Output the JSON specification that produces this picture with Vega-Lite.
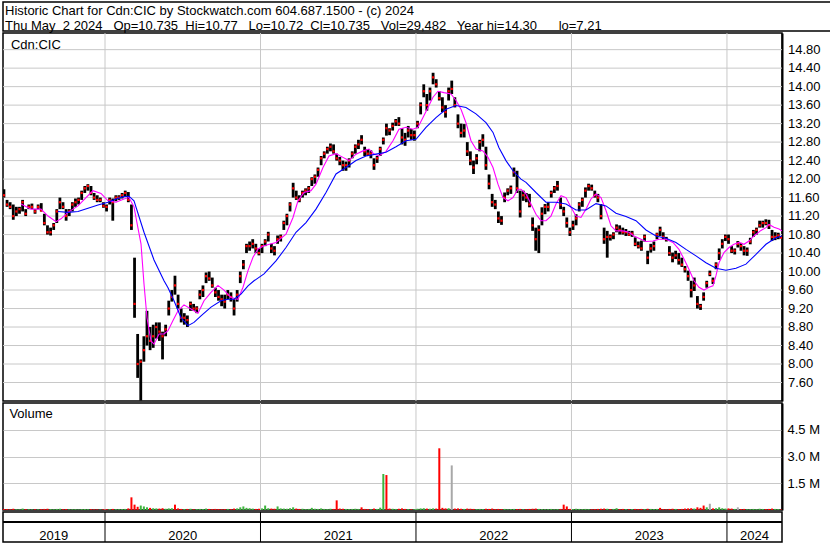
{
"$schema": "https://vega.github.io/schema/vega-lite/v6.json",
"background": "white",
"padding": {"left": 1, "top": 1, "right": 0, "bottom": 0},
"spacing": 2,
"bounds": "flush",
"config": {"view": {"stroke": "black", "strokeWidth": 1.5}, "font": "Liberation Sans"},
"resolve": {"scale": {"x": "independent", "y": "independent", "color": "independent"}},
"datasets": {
"header": [
{"line": 1, "txt": "Historic Chart for Cdn:CIC by Stockwatch.com 604.687.1500 - (c) 2024"},
{"line": 2, "txt": "Thu May\u00a0 2 2024\u00a0\u00a0 Op=10.735\u00a0 Hi=10.77\u00a0\u00a0 Lo=10.72\u00a0 Cl=10.735\u00a0\u00a0 Vol=29,482\u00a0\u00a0 Year hi=14.30\u00a0\u00a0\u00a0\u00a0\u00a0 lo=7.21"}
],
"yb": [{"b": 2020}, {"b": 2021}, {"b": 2022}, {"b": 2023}, {"b": 2024}],
"yl": [{"year": "2019", "mid": 2019.67}, {"year": "2020", "mid": 2020.5}, {"year": "2021", "mid": 2021.5}, {"year": "2022", "mid": 2022.5}, {"year": "2023", "mid": 2023.5}, {"year": "2024", "mid": 2024.177}],
"ticks": [{"p":7.6},{"p":8.0},{"p":8.4},{"p":8.8},{"p":9.2},{"p":9.6},{"p":10.0},{"p":10.4},{"p":10.8},{"p":11.2},{"p":11.6},{"p":12.0},{"p":12.4},{"p":12.8},{"p":13.2},{"p":13.6},{"p":14.0},{"p":14.4},{"p":14.8}],
"px": [
{"t":2019.35,"h":11.78,"l":11.6,"c":11.65,"v":60000,"mv":"down"},
{"t":2019.37,"h":11.55,"l":11.4,"c":11.45,"v":50000,"mv":"down"},
{"t":2019.39,"h":11.5,"l":11.35,"c":11.4,"v":40000,"mv":"down"},
{"t":2019.41,"h":11.45,"l":11.12,"c":11.2,"v":70000,"mv":"down"},
{"t":2019.43,"h":11.4,"l":11.2,"c":11.3,"v":40000,"mv":"up"},
{"t":2019.45,"h":11.4,"l":11.25,"c":11.35,"v":35000,"mv":"up"},
{"t":2019.47,"h":11.55,"l":11.3,"c":11.5,"v":80000,"mv":"up"},
{"t":2019.49,"h":11.35,"l":11.2,"c":11.25,"v":45000,"mv":"down"},
{"t":2019.51,"h":11.45,"l":11.35,"c":11.4,"v":40000,"mv":"up"},
{"t":2019.53,"h":11.47,"l":11.35,"c":11.4,"v":30000,"mv":"up"},
{"t":2019.55,"h":11.35,"l":11.25,"c":11.3,"v":40000,"mv":"down"},
{"t":2019.57,"h":11.45,"l":11.35,"c":11.4,"v":35000,"mv":"up"},
{"t":2019.59,"h":11.48,"l":11.3,"c":11.32,"v":45000,"mv":"down"},
{"t":2019.61,"h":11.25,"l":11.0,"c":11.05,"v":60000,"mv":"down"},
{"t":2019.63,"h":11.0,"l":10.8,"c":10.85,"v":70000,"mv":"down"},
{"t":2019.65,"h":10.95,"l":10.78,"c":10.85,"v":50000,"mv":"up"},
{"t":2019.67,"h":11.05,"l":10.9,"c":11.0,"v":40000,"mv":"up"},
{"t":2019.69,"h":11.35,"l":11.05,"c":11.3,"v":60000,"mv":"up"},
{"t":2019.71,"h":11.6,"l":11.35,"c":11.5,"v":70000,"mv":"up"},
{"t":2019.73,"h":11.5,"l":11.35,"c":11.4,"v":40000,"mv":"down"},
{"t":2019.75,"h":11.35,"l":11.1,"c":11.2,"v":50000,"mv":"down"},
{"t":2019.77,"h":11.35,"l":11.2,"c":11.3,"v":35000,"mv":"up"},
{"t":2019.79,"h":11.5,"l":11.3,"c":11.45,"v":40000,"mv":"up"},
{"t":2019.81,"h":11.58,"l":11.4,"c":11.5,"v":45000,"mv":"up"},
{"t":2019.83,"h":11.6,"l":11.45,"c":11.55,"v":30000,"mv":"up"},
{"t":2019.85,"h":11.75,"l":11.55,"c":11.7,"v":50000,"mv":"up"},
{"t":2019.87,"h":11.85,"l":11.7,"c":11.8,"v":55000,"mv":"up"},
{"t":2019.89,"h":11.89,"l":11.75,"c":11.85,"v":45000,"mv":"up"},
{"t":2019.91,"h":11.85,"l":11.65,"c":11.7,"v":40000,"mv":"down"},
{"t":2019.93,"h":11.7,"l":11.55,"c":11.6,"v":35000,"mv":"down"},
{"t":2019.95,"h":11.65,"l":11.5,"c":11.55,"v":30000,"mv":"down"},
{"t":2019.97,"h":11.6,"l":11.5,"c":11.55,"v":25000,"mv":"up"},
{"t":2019.99,"h":11.5,"l":11.38,"c":11.42,"v":40000,"mv":"down"},
{"t":2020.01,"h":11.45,"l":11.3,"c":11.4,"v":45000,"mv":"down"},
{"t":2020.03,"h":11.6,"l":11.45,"c":11.55,"v":50000,"mv":"up"},
{"t":2020.05,"h":11.58,"l":11.1,"c":11.5,"v":60000,"mv":"down"},
{"t":2020.07,"h":11.65,"l":11.52,"c":11.6,"v":45000,"mv":"up"},
{"t":2020.09,"h":11.65,"l":11.55,"c":11.6,"v":40000,"mv":"up"},
{"t":2020.11,"h":11.7,"l":11.58,"c":11.65,"v":50000,"mv":"up"},
{"t":2020.13,"h":11.75,"l":11.62,"c":11.7,"v":60000,"mv":"up"},
{"t":2020.15,"h":11.72,"l":11.5,"c":11.55,"v":90000,"mv":"down"},
{"t":2020.17,"h":11.45,"l":10.9,"c":11.0,"v":710000,"mv":"down"},
{"t":2020.19,"h":10.3,"l":9.0,"c":9.3,"v":300000,"mv":"down"},
{"t":2020.21,"h":8.65,"l":7.7,"c":8.0,"v":180000,"mv":"down"},
{"t":2020.23,"h":8.1,"l":7.21,"c":8.05,"v":250000,"mv":"up"},
{"t":2020.25,"h":8.6,"l":8.05,"c":8.3,"v":200000,"mv":"up"},
{"t":2020.27,"h":9.15,"l":8.4,"c":8.6,"v":150000,"mv":"up"},
{"t":2020.29,"h":8.8,"l":8.3,"c":8.5,"v":120000,"mv":"down"},
{"t":2020.31,"h":8.85,"l":8.35,"c":8.6,"v":100000,"mv":"up"},
{"t":2020.33,"h":8.9,"l":8.55,"c":8.8,"v":90000,"mv":"up"},
{"t":2020.35,"h":8.9,"l":8.5,"c":8.7,"v":80000,"mv":"down"},
{"t":2020.37,"h":8.7,"l":8.1,"c":8.6,"v":100000,"mv":"down"},
{"t":2020.39,"h":8.85,"l":8.6,"c":8.75,"v":70000,"mv":"up"},
{"t":2020.41,"h":9.37,"l":9.05,"c":9.2,"v":90000,"mv":"up"},
{"t":2020.43,"h":9.6,"l":9.35,"c":9.45,"v":100000,"mv":"up"},
{"t":2020.45,"h":9.91,"l":9.5,"c":9.7,"v":300000,"mv":"down"},
{"t":2020.47,"h":9.5,"l":9.2,"c":9.3,"v":90000,"mv":"down"},
{"t":2020.49,"h":9.2,"l":8.9,"c":9.0,"v":60000,"mv":"down"},
{"t":2020.51,"h":9.1,"l":8.85,"c":9.0,"v":50000,"mv":"up"},
{"t":2020.53,"h":9.05,"l":8.8,"c":8.95,"v":60000,"mv":"down"},
{"t":2020.55,"h":9.35,"l":9.15,"c":9.3,"v":70000,"mv":"up"},
{"t":2020.57,"h":9.3,"l":9.15,"c":9.2,"v":40000,"mv":"down"},
{"t":2020.59,"h":9.25,"l":9.1,"c":9.2,"v":50000,"mv":"up"},
{"t":2020.61,"h":9.6,"l":9.4,"c":9.5,"v":60000,"mv":"up"},
{"t":2020.63,"h":9.7,"l":9.45,"c":9.6,"v":50000,"mv":"up"},
{"t":2020.65,"h":9.98,"l":9.75,"c":9.9,"v":80000,"mv":"up"},
{"t":2020.67,"h":10.0,"l":9.8,"c":9.85,"v":60000,"mv":"down"},
{"t":2020.69,"h":9.87,"l":9.65,"c":9.7,"v":50000,"mv":"down"},
{"t":2020.71,"h":9.65,"l":9.45,"c":9.55,"v":60000,"mv":"down"},
{"t":2020.73,"h":9.6,"l":9.37,"c":9.45,"v":50000,"mv":"down"},
{"t":2020.75,"h":9.5,"l":9.25,"c":9.4,"v":40000,"mv":"down"},
{"t":2020.77,"h":9.5,"l":9.2,"c":9.35,"v":50000,"mv":"down"},
{"t":2020.79,"h":9.6,"l":9.4,"c":9.5,"v":60000,"mv":"up"},
{"t":2020.81,"h":9.55,"l":9.35,"c":9.45,"v":40000,"mv":"down"},
{"t":2020.83,"h":9.4,"l":9.05,"c":9.2,"v":80000,"mv":"down"},
{"t":2020.85,"h":9.6,"l":9.35,"c":9.5,"v":90000,"mv":"up"},
{"t":2020.87,"h":10.0,"l":9.75,"c":9.9,"v":150000,"mv":"up"},
{"t":2020.89,"h":10.25,"l":10.05,"c":10.15,"v":200000,"mv":"up"},
{"t":2020.91,"h":10.6,"l":10.4,"c":10.55,"v":120000,"mv":"up"},
{"t":2020.93,"h":10.65,"l":10.45,"c":10.55,"v":100000,"mv":"up"},
{"t":2020.95,"h":10.7,"l":10.5,"c":10.6,"v":80000,"mv":"up"},
{"t":2020.97,"h":10.6,"l":10.4,"c":10.5,"v":60000,"mv":"down"},
{"t":2020.99,"h":10.5,"l":10.35,"c":10.4,"v":70000,"mv":"down"},
{"t":2021.01,"h":10.6,"l":10.4,"c":10.55,"v":90000,"mv":"up"},
{"t":2021.03,"h":10.7,"l":10.55,"c":10.65,"v":250000,"mv":"up"},
{"t":2021.05,"h":10.86,"l":10.65,"c":10.8,"v":100000,"mv":"up"},
{"t":2021.07,"h":10.6,"l":10.4,"c":10.5,"v":80000,"mv":"down"},
{"t":2021.09,"h":10.55,"l":10.35,"c":10.45,"v":70000,"mv":"down"},
{"t":2021.11,"h":10.78,"l":10.6,"c":10.7,"v":200000,"mv":"up"},
{"t":2021.13,"h":10.8,"l":10.65,"c":10.75,"v":90000,"mv":"up"},
{"t":2021.15,"h":11.1,"l":10.9,"c":11.05,"v":80000,"mv":"up"},
{"t":2021.17,"h":11.25,"l":11.0,"c":11.2,"v":70000,"mv":"up"},
{"t":2021.19,"h":11.5,"l":11.3,"c":11.45,"v":100000,"mv":"up"},
{"t":2021.21,"h":11.92,"l":11.6,"c":11.8,"v":150000,"mv":"up"},
{"t":2021.23,"h":11.75,"l":11.55,"c":11.6,"v":80000,"mv":"down"},
{"t":2021.25,"h":11.65,"l":11.5,"c":11.55,"v":60000,"mv":"down"},
{"t":2021.27,"h":11.75,"l":11.6,"c":11.7,"v":70000,"mv":"up"},
{"t":2021.29,"h":11.8,"l":11.65,"c":11.75,"v":50000,"mv":"up"},
{"t":2021.31,"h":11.85,"l":11.7,"c":11.8,"v":60000,"mv":"up"},
{"t":2021.33,"h":12.04,"l":11.85,"c":12.0,"v":120000,"mv":"up"},
{"t":2021.35,"h":12.1,"l":11.9,"c":12.05,"v":70000,"mv":"up"},
{"t":2021.37,"h":12.25,"l":12.05,"c":12.2,"v":60000,"mv":"up"},
{"t":2021.39,"h":12.5,"l":12.3,"c":12.45,"v":90000,"mv":"up"},
{"t":2021.41,"h":12.6,"l":12.45,"c":12.55,"v":60000,"mv":"up"},
{"t":2021.43,"h":12.7,"l":12.55,"c":12.65,"v":50000,"mv":"up"},
{"t":2021.45,"h":12.77,"l":12.6,"c":12.7,"v":70000,"mv":"up"},
{"t":2021.47,"h":12.75,"l":12.55,"c":12.6,"v":60000,"mv":"down"},
{"t":2021.49,"h":12.55,"l":12.4,"c":12.45,"v":540000,"mv":"down"},
{"t":2021.51,"h":12.48,"l":12.3,"c":12.4,"v":80000,"mv":"down"},
{"t":2021.53,"h":12.4,"l":12.18,"c":12.3,"v":70000,"mv":"down"},
{"t":2021.55,"h":12.38,"l":12.18,"c":12.3,"v":60000,"mv":"up"},
{"t":2021.57,"h":12.45,"l":12.25,"c":12.4,"v":50000,"mv":"up"},
{"t":2021.59,"h":12.6,"l":12.45,"c":12.55,"v":60000,"mv":"up"},
{"t":2021.61,"h":12.75,"l":12.55,"c":12.7,"v":70000,"mv":"up"},
{"t":2021.63,"h":12.85,"l":12.65,"c":12.75,"v":60000,"mv":"up"},
{"t":2021.65,"h":12.95,"l":12.75,"c":12.85,"v":150000,"mv":"down"},
{"t":2021.67,"h":12.7,"l":12.5,"c":12.6,"v":60000,"mv":"down"},
{"t":2021.69,"h":12.65,"l":12.5,"c":12.55,"v":50000,"mv":"down"},
{"t":2021.71,"h":12.62,"l":12.45,"c":12.55,"v":40000,"mv":"up"},
{"t":2021.73,"h":12.45,"l":12.2,"c":12.3,"v":80000,"mv":"down"},
{"t":2021.75,"h":12.5,"l":12.35,"c":12.45,"v":60000,"mv":"up"},
{"t":2021.77,"h":12.7,"l":12.5,"c":12.65,"v":130000,"mv":"up"},
{"t":2021.79,"h":12.9,"l":12.75,"c":12.85,"v":2020000,"mv":"up"},
{"t":2021.81,"h":13.2,"l":12.94,"c":13.1,"v":1960000,"mv":"down"},
{"t":2021.83,"h":13.1,"l":12.95,"c":13.05,"v":80000,"mv":"down"},
{"t":2021.85,"h":13.22,"l":13.05,"c":13.15,"v":70000,"mv":"up"},
{"t":2021.87,"h":13.3,"l":13.15,"c":13.25,"v":60000,"mv":"up"},
{"t":2021.89,"h":13.34,"l":13.15,"c":13.2,"v":70000,"mv":"down"},
{"t":2021.91,"h":13.1,"l":12.75,"c":12.9,"v":90000,"mv":"down"},
{"t":2021.93,"h":13.0,"l":12.72,"c":12.85,"v":60000,"mv":"down"},
{"t":2021.95,"h":13.15,"l":12.9,"c":13.05,"v":50000,"mv":"up"},
{"t":2021.97,"h":13.08,"l":12.85,"c":12.95,"v":40000,"mv":"down"},
{"t":2021.99,"h":13.05,"l":12.83,"c":12.95,"v":50000,"mv":"up"},
{"t":2022.01,"h":13.26,"l":13.1,"c":13.2,"v":70000,"mv":"up"},
{"t":2022.03,"h":13.66,"l":13.4,"c":13.6,"v":90000,"mv":"up"},
{"t":2022.05,"h":14.05,"l":13.77,"c":13.9,"v":100000,"mv":"up"},
{"t":2022.07,"h":13.84,"l":13.48,"c":13.6,"v":80000,"mv":"down"},
{"t":2022.09,"h":13.98,"l":13.7,"c":13.9,"v":70000,"mv":"up"},
{"t":2022.11,"h":14.3,"l":14.05,"c":14.2,"v":90000,"mv":"up"},
{"t":2022.13,"h":14.16,"l":13.98,"c":14.05,"v":80000,"mv":"down"},
{"t":2022.15,"h":13.9,"l":13.7,"c":13.75,"v":3460000,"mv":"down"},
{"t":2022.17,"h":13.77,"l":13.45,"c":13.55,"v":120000,"mv":"down"},
{"t":2022.19,"h":13.6,"l":13.33,"c":13.45,"v":90000,"mv":"down"},
{"t":2022.21,"h":13.98,"l":13.7,"c":13.9,"v":100000,"mv":"up"},
{"t":2022.23,"h":14.13,"l":13.84,"c":13.95,"v":2500000,"mv":"flat"},
{"t":2022.25,"h":13.77,"l":13.55,"c":13.6,"v":80000,"mv":"down"},
{"t":2022.27,"h":13.4,"l":13.1,"c":13.2,"v":90000,"mv":"down"},
{"t":2022.29,"h":13.2,"l":12.9,"c":13.0,"v":70000,"mv":"down"},
{"t":2022.31,"h":13.19,"l":12.9,"c":13.05,"v":60000,"mv":"up"},
{"t":2022.33,"h":12.8,"l":12.5,"c":12.6,"v":80000,"mv":"down"},
{"t":2022.35,"h":12.6,"l":12.3,"c":12.4,"v":70000,"mv":"down"},
{"t":2022.37,"h":12.4,"l":12.11,"c":12.25,"v":60000,"mv":"down"},
{"t":2022.39,"h":12.54,"l":12.32,"c":12.45,"v":50000,"mv":"up"},
{"t":2022.41,"h":12.85,"l":12.6,"c":12.8,"v":60000,"mv":"up"},
{"t":2022.43,"h":12.97,"l":12.7,"c":12.85,"v":50000,"mv":"up"},
{"t":2022.45,"h":12.7,"l":12.2,"c":12.3,"v":70000,"mv":"down"},
{"t":2022.47,"h":12.1,"l":11.78,"c":11.9,"v":60000,"mv":"down"},
{"t":2022.49,"h":11.68,"l":11.4,"c":11.5,"v":80000,"mv":"down"},
{"t":2022.51,"h":11.55,"l":11.35,"c":11.45,"v":50000,"mv":"down"},
{"t":2022.53,"h":11.3,"l":11.05,"c":11.15,"v":60000,"mv":"down"},
{"t":2022.55,"h":11.2,"l":11.01,"c":11.1,"v":50000,"mv":"down"},
{"t":2022.57,"h":11.71,"l":11.5,"c":11.6,"v":60000,"mv":"up"},
{"t":2022.59,"h":11.8,"l":11.65,"c":11.75,"v":40000,"mv":"up"},
{"t":2022.61,"h":11.86,"l":11.68,"c":11.8,"v":50000,"mv":"up"},
{"t":2022.63,"h":12.25,"l":12.05,"c":12.15,"v":60000,"mv":"up"},
{"t":2022.65,"h":12.18,"l":11.7,"c":11.8,"v":50000,"mv":"down"},
{"t":2022.67,"h":11.75,"l":11.17,"c":11.3,"v":60000,"mv":"down"},
{"t":2022.69,"h":11.75,"l":11.53,"c":11.65,"v":40000,"mv":"up"},
{"t":2022.71,"h":11.7,"l":11.5,"c":11.6,"v":50000,"mv":"down"},
{"t":2022.73,"h":11.68,"l":11.39,"c":11.45,"v":60000,"mv":"down"},
{"t":2022.75,"h":11.17,"l":10.88,"c":11.0,"v":70000,"mv":"down"},
{"t":2022.77,"h":10.95,"l":10.45,"c":10.7,"v":80000,"mv":"down"},
{"t":2022.79,"h":11.0,"l":10.4,"c":10.9,"v":60000,"mv":"up"},
{"t":2022.81,"h":11.39,"l":11.0,"c":11.25,"v":50000,"mv":"up"},
{"t":2022.83,"h":11.46,"l":11.24,"c":11.4,"v":40000,"mv":"up"},
{"t":2022.85,"h":11.5,"l":11.3,"c":11.4,"v":50000,"mv":"up"},
{"t":2022.87,"h":11.75,"l":11.6,"c":11.7,"v":60000,"mv":"up"},
{"t":2022.89,"h":11.85,"l":11.7,"c":11.8,"v":40000,"mv":"up"},
{"t":2022.91,"h":11.96,"l":11.75,"c":11.85,"v":50000,"mv":"up"},
{"t":2022.93,"h":11.6,"l":11.35,"c":11.45,"v":60000,"mv":"down"},
{"t":2022.95,"h":11.4,"l":11.2,"c":11.3,"v":300000,"mv":"down"},
{"t":2022.97,"h":11.17,"l":10.95,"c":11.05,"v":200000,"mv":"down"},
{"t":2022.99,"h":10.95,"l":10.77,"c":10.85,"v":60000,"mv":"down"},
{"t":2023.01,"h":11.1,"l":10.9,"c":11.0,"v":50000,"mv":"up"},
{"t":2023.03,"h":11.24,"l":11.0,"c":11.15,"v":70000,"mv":"up"},
{"t":2023.05,"h":11.5,"l":11.3,"c":11.45,"v":60000,"mv":"up"},
{"t":2023.07,"h":11.6,"l":11.4,"c":11.55,"v":50000,"mv":"up"},
{"t":2023.09,"h":11.82,"l":11.6,"c":11.75,"v":60000,"mv":"up"},
{"t":2023.11,"h":11.9,"l":11.75,"c":11.85,"v":50000,"mv":"up"},
{"t":2023.13,"h":11.88,"l":11.75,"c":11.8,"v":40000,"mv":"down"},
{"t":2023.15,"h":11.75,"l":11.6,"c":11.65,"v":50000,"mv":"down"},
{"t":2023.17,"h":11.68,"l":11.5,"c":11.6,"v":60000,"mv":"down"},
{"t":2023.19,"h":11.46,"l":11.13,"c":11.2,"v":70000,"mv":"down"},
{"t":2023.21,"h":10.95,"l":10.6,"c":10.7,"v":80000,"mv":"down"},
{"t":2023.23,"h":10.88,"l":10.3,"c":10.75,"v":70000,"mv":"up"},
{"t":2023.25,"h":10.8,"l":10.67,"c":10.75,"v":50000,"mv":"down"},
{"t":2023.27,"h":10.85,"l":10.7,"c":10.8,"v":60000,"mv":"up"},
{"t":2023.29,"h":11.02,"l":10.85,"c":10.95,"v":100000,"mv":"up"},
{"t":2023.31,"h":11.0,"l":10.8,"c":10.9,"v":50000,"mv":"down"},
{"t":2023.33,"h":10.95,"l":10.8,"c":10.85,"v":60000,"mv":"down"},
{"t":2023.35,"h":10.92,"l":10.77,"c":10.85,"v":50000,"mv":"up"},
{"t":2023.37,"h":10.88,"l":10.77,"c":10.8,"v":40000,"mv":"down"},
{"t":2023.39,"h":10.88,"l":10.75,"c":10.82,"v":50000,"mv":"up"},
{"t":2023.41,"h":10.74,"l":10.55,"c":10.6,"v":60000,"mv":"down"},
{"t":2023.43,"h":10.65,"l":10.5,"c":10.55,"v":50000,"mv":"down"},
{"t":2023.45,"h":10.67,"l":10.45,"c":10.5,"v":60000,"mv":"down"},
{"t":2023.47,"h":10.8,"l":10.65,"c":10.75,"v":50000,"mv":"up"},
{"t":2023.49,"h":10.45,"l":10.16,"c":10.3,"v":70000,"mv":"down"},
{"t":2023.51,"h":10.6,"l":10.41,"c":10.5,"v":60000,"mv":"up"},
{"t":2023.53,"h":10.65,"l":10.45,"c":10.55,"v":50000,"mv":"up"},
{"t":2023.55,"h":10.84,"l":10.7,"c":10.8,"v":60000,"mv":"up"},
{"t":2023.57,"h":10.97,"l":10.77,"c":10.9,"v":120000,"mv":"down"},
{"t":2023.59,"h":10.85,"l":10.7,"c":10.75,"v":50000,"mv":"down"},
{"t":2023.61,"h":10.75,"l":10.65,"c":10.7,"v":40000,"mv":"down"},
{"t":2023.63,"h":10.55,"l":10.34,"c":10.4,"v":60000,"mv":"down"},
{"t":2023.65,"h":10.41,"l":10.2,"c":10.3,"v":70000,"mv":"down"},
{"t":2023.67,"h":10.45,"l":10.27,"c":10.35,"v":60000,"mv":"up"},
{"t":2023.69,"h":10.4,"l":10.15,"c":10.25,"v":50000,"mv":"down"},
{"t":2023.71,"h":10.3,"l":10.1,"c":10.15,"v":60000,"mv":"down"},
{"t":2023.73,"h":10.12,"l":9.98,"c":10.05,"v":80000,"mv":"down"},
{"t":2023.75,"h":10.02,"l":9.8,"c":9.9,"v":90000,"mv":"down"},
{"t":2023.77,"h":9.8,"l":9.44,"c":9.6,"v":100000,"mv":"down"},
{"t":2023.79,"h":9.87,"l":9.58,"c":9.7,"v":80000,"mv":"up"},
{"t":2023.81,"h":9.47,"l":9.2,"c":9.3,"v":150000,"mv":"down"},
{"t":2023.83,"h":9.3,"l":9.17,"c":9.25,"v":120000,"mv":"down"},
{"t":2023.85,"h":9.55,"l":9.37,"c":9.45,"v":250000,"mv":"down"},
{"t":2023.87,"h":9.8,"l":9.65,"c":9.75,"v":150000,"mv":"up"},
{"t":2023.89,"h":10.02,"l":9.9,"c":9.95,"v":350000,"mv":"flat"},
{"t":2023.91,"h":9.87,"l":9.73,"c":9.8,"v":90000,"mv":"down"},
{"t":2023.93,"h":10.2,"l":10.05,"c":10.15,"v":100000,"mv":"up"},
{"t":2023.95,"h":10.5,"l":10.25,"c":10.4,"v":150000,"mv":"up"},
{"t":2023.97,"h":10.7,"l":10.5,"c":10.6,"v":100000,"mv":"up"},
{"t":2023.99,"h":10.8,"l":10.66,"c":10.75,"v":80000,"mv":"up"},
{"t":2024.01,"h":10.8,"l":10.6,"c":10.7,"v":90000,"mv":"down"},
{"t":2024.03,"h":10.55,"l":10.4,"c":10.45,"v":80000,"mv":"down"},
{"t":2024.05,"h":10.5,"l":10.37,"c":10.45,"v":60000,"mv":"up"},
{"t":2024.07,"h":10.66,"l":10.52,"c":10.6,"v":150000,"mv":"flat"},
{"t":2024.09,"h":10.62,"l":10.45,"c":10.55,"v":50000,"mv":"down"},
{"t":2024.11,"h":10.55,"l":10.35,"c":10.45,"v":60000,"mv":"down"},
{"t":2024.13,"h":10.52,"l":10.34,"c":10.45,"v":40000,"mv":"up"},
{"t":2024.15,"h":10.73,"l":10.59,"c":10.65,"v":50000,"mv":"up"},
{"t":2024.17,"h":10.9,"l":10.75,"c":10.85,"v":60000,"mv":"up"},
{"t":2024.19,"h":10.95,"l":10.8,"c":10.9,"v":50000,"mv":"up"},
{"t":2024.21,"h":11.1,"l":10.95,"c":11.0,"v":70000,"mv":"up"},
{"t":2024.23,"h":11.1,"l":10.95,"c":11.05,"v":60000,"mv":"up"},
{"t":2024.25,"h":11.13,"l":11.0,"c":11.05,"v":50000,"mv":"down"},
{"t":2024.27,"h":11.12,"l":10.92,"c":11.0,"v":60000,"mv":"down"},
{"t":2024.29,"h":10.9,"l":10.66,"c":10.75,"v":80000,"mv":"down"},
{"t":2024.31,"h":10.85,"l":10.68,"c":10.75,"v":60000,"mv":"up"},
{"t":2024.33,"h":10.84,"l":10.7,"c":10.78,"v":50000,"mv":"up"},
{"t":2024.35,"h":10.77,"l":10.72,"c":10.735,"v":29482,"mv":"down"}
],
"ma1": [
{"t":2019.4598,"p":11.46},{"t":2019.5241,"p":11.35},{"t":2019.5884,"p":11.35},{"t":2019.6335,"p":11.2},{"t":2019.6849,"p":11.08},{"t":2019.7171,"p":11.14},{"t":2019.7621,"p":11.28},{"t":2019.8264,"p":11.42},{"t":2019.8778,"p":11.6},{"t":2019.9229,"p":11.75},{"t":2019.9743,"p":11.69},{"t":2020.0193,"p":11.53},{"t":2020.0708,"p":11.5},{"t":2020.1222,"p":11.57},{"t":2020.1544,"p":11.6},{"t":2020.1865,"p":11.4},{"t":2020.2058,"p":11.05},{"t":2020.2315,"p":10.6},{"t":2020.2508,"p":9.73},{"t":2020.2701,"p":9.0},{"t":2020.2959,"p":8.5},{"t":2020.3152,"p":8.43},{"t":2020.3473,"p":8.65},{"t":2020.3795,"p":8.65},{"t":2020.4052,"p":8.72},{"t":2020.4373,"p":8.94},{"t":2020.4695,"p":9.15},{"t":2020.5081,"p":9.28},{"t":2020.5531,"p":9.19},{"t":2020.5981,"p":9.1},{"t":2020.6367,"p":9.37},{"t":2020.6817,"p":9.55},{"t":2020.7267,"p":9.7},{"t":2020.7653,"p":9.6},{"t":2020.8103,"p":9.44},{"t":2020.8553,"p":9.4},{"t":2020.8875,"p":9.66},{"t":2020.9197,"p":10.02},{"t":2020.9518,"p":10.31},{"t":2020.984,"p":10.49},{"t":2021.0226,"p":10.56},{"t":2021.0997,"p":10.63},{"t":2021.164,"p":10.81},{"t":2021.2091,"p":11.17},{"t":2021.2412,"p":11.53},{"t":2021.2798,"p":11.71},{"t":2021.3248,"p":11.75},{"t":2021.357,"p":11.89},{"t":2021.402,"p":12.25},{"t":2021.4406,"p":12.5},{"t":2021.4856,"p":12.55},{"t":2021.5306,"p":12.47},{"t":2021.5692,"p":12.4},{"t":2021.6142,"p":12.54},{"t":2021.6592,"p":12.61},{"t":2021.6978,"p":12.65},{"t":2021.73,"p":12.54},{"t":2021.7621,"p":12.5},{"t":2021.8071,"p":12.6},{"t":2021.8522,"p":12.83},{"t":2021.8907,"p":13.08},{"t":2021.9358,"p":13.12},{"t":2021.9808,"p":13.08},{"t":2022.0129,"p":13.12},{"t":2022.0451,"p":13.33},{"t":2022.0772,"p":13.55},{"t":2022.1094,"p":13.77},{"t":2022.1415,"p":13.9},{"t":2022.1801,"p":13.87},{"t":2022.2251,"p":13.84},{"t":2022.2573,"p":13.7},{"t":2022.2895,"p":13.51},{"t":2022.3216,"p":13.22},{"t":2022.3538,"p":12.83},{"t":2022.3859,"p":12.65},{"t":2022.4309,"p":12.61},{"t":2022.4631,"p":12.47},{"t":2022.4953,"p":12.25},{"t":2022.5274,"p":11.89},{"t":2022.5596,"p":11.6},{"t":2022.5917,"p":11.53},{"t":2022.6239,"p":11.6},{"t":2022.656,"p":11.78},{"t":2022.6753,"p":11.78},{"t":2022.7075,"p":11.68},{"t":2022.7396,"p":11.46},{"t":2022.7718,"p":11.24},{"t":2022.8039,"p":11.1},{"t":2022.8361,"p":11.1},{"t":2022.8682,"p":11.2},{"t":2022.9004,"p":11.46},{"t":2022.9326,"p":11.64},{"t":2022.9647,"p":11.6},{"t":2022.9969,"p":11.39},{"t":2023.029,"p":11.2},{"t":2023.0612,"p":11.17},{"t":2023.0933,"p":11.35},{"t":2023.1255,"p":11.57},{"t":2023.1576,"p":11.68},{"t":2023.1898,"p":11.6},{"t":2023.222,"p":11.32},{"t":2023.2541,"p":10.99},{"t":2023.2863,"p":10.88},{"t":2023.3313,"p":10.88},{"t":2023.3699,"p":10.85},{"t":2023.402,"p":10.77},{"t":2023.447,"p":10.7},{"t":2023.4792,"p":10.65},{"t":2023.5242,"p":10.66},{"t":2023.5628,"p":10.7},{"t":2023.6078,"p":10.7},{"t":2023.6528,"p":10.63},{"t":2023.6914,"p":10.48},{"t":2023.7236,"p":10.27},{"t":2023.7557,"p":10.05},{"t":2023.7879,"p":9.8},{"t":2023.82,"p":9.66},{"t":2023.8522,"p":9.6},{"t":2023.8844,"p":9.66},{"t":2023.9101,"p":9.69},{"t":2023.9294,"p":9.91},{"t":2023.9487,"p":10.19},{"t":2023.9808,"p":10.41},{"t":2024.013,"p":10.52},{"t":2024.0452,"p":10.59},{"t":2024.0773,"p":10.63},{"t":2024.1095,"p":10.59},{"t":2024.1416,"p":10.66},{"t":2024.1738,"p":10.77},{"t":2024.2188,"p":10.89},{"t":2024.251,"p":10.95},{"t":2024.2703,"p":11.02},{"t":2024.3024,"p":10.96},{"t":2024.3346,"p":10.92},{"t":2024.3539,"p":10.88}
],
"ma2": [
{"t":2019.6978,"p":11.3},{"t":2019.7621,"p":11.28},{"t":2019.8264,"p":11.3},{"t":2019.8907,"p":11.37},{"t":2019.955,"p":11.44},{"t":2020.0193,"p":11.5},{"t":2020.0708,"p":11.57},{"t":2020.1222,"p":11.62},{"t":2020.1544,"p":11.63},{"t":2020.1865,"p":11.53},{"t":2020.2508,"p":10.85},{"t":2020.3152,"p":10.25},{"t":2020.3795,"p":9.8},{"t":2020.4052,"p":9.65},{"t":2020.4438,"p":9.37},{"t":2020.4888,"p":9.0},{"t":2020.5338,"p":8.83},{"t":2020.5724,"p":8.9},{"t":2020.6174,"p":9.04},{"t":2020.6817,"p":9.23},{"t":2020.746,"p":9.37},{"t":2020.791,"p":9.4},{"t":2020.8296,"p":9.4},{"t":2020.8746,"p":9.51},{"t":2020.9197,"p":9.69},{"t":2020.9583,"p":9.8},{"t":2021.0226,"p":9.95},{"t":2021.0997,"p":10.23},{"t":2021.164,"p":10.52},{"t":2021.2283,"p":10.85},{"t":2021.2927,"p":11.06},{"t":2021.357,"p":11.35},{"t":2021.4213,"p":11.71},{"t":2021.4856,"p":12.11},{"t":2021.5499,"p":12.25},{"t":2021.6142,"p":12.4},{"t":2021.6785,"p":12.5},{"t":2021.7428,"p":12.54},{"t":2021.8071,"p":12.58},{"t":2021.8714,"p":12.7},{"t":2021.9358,"p":12.83},{"t":2022.0001,"p":12.86},{"t":2022.0644,"p":13.12},{"t":2022.1287,"p":13.33},{"t":2022.193,"p":13.51},{"t":2022.2573,"p":13.59},{"t":2022.3216,"p":13.55},{"t":2022.3859,"p":13.41},{"t":2022.4502,"p":13.22},{"t":2022.4953,"p":13.01},{"t":2022.5338,"p":12.68},{"t":2022.5788,"p":12.4},{"t":2022.6239,"p":12.18},{"t":2022.6753,"p":12.0},{"t":2022.7075,"p":11.93},{"t":2022.7718,"p":11.71},{"t":2022.8361,"p":11.5},{"t":2022.9004,"p":11.5},{"t":2022.9647,"p":11.46},{"t":2023.029,"p":11.33},{"t":2023.0933,"p":11.33},{"t":2023.1576,"p":11.47},{"t":2023.222,"p":11.42},{"t":2023.2863,"p":11.26},{"t":2023.3506,"p":11.19},{"t":2023.4149,"p":11.1},{"t":2023.4792,"p":10.9},{"t":2023.5435,"p":10.77},{"t":2023.6078,"p":10.72},{"t":2023.6721,"p":10.63},{"t":2023.7364,"p":10.48},{"t":2023.8007,"p":10.34},{"t":2023.865,"p":10.19},{"t":2023.9294,"p":10.07},{"t":2023.9937,"p":10.03},{"t":2024.058,"p":10.07},{"t":2024.1223,"p":10.16},{"t":2024.1866,"p":10.37},{"t":2024.251,"p":10.59},{"t":2024.3153,"p":10.73},{"t":2024.3539,"p":10.77}
]
},
"vconcat": [
{
"width": 828, "height": 29,
"data": {"name": "header"},
"mark": {"type": "text", "align": "left", "baseline": "middle", "fontSize": 13, "dx": 2, "dy": 2, "color": "black", "font": "Liberation Sans"},
"encoding": {
"x": {"datum": 0, "type": "quantitative", "scale": {"domain": [0, 1]}, "axis": null},
"y": {"field": "line", "type": "ordinal", "axis": null, "scale": {"paddingInner": 0, "paddingOuter": 0.05}},
"text": {"field": "txt"}
}
},
{
"width": 779, "height": 368,
"layer": [
{"data": {"name": "yb"}, "mark": {"type": "rule", "color": "#c8c8c8", "strokeWidth": 1},
 "encoding": {"x": {"field": "b", "type": "quantitative", "scale": {"domain": [2019.344, 2024.354], "nice": false, "zero": false}, "axis": null}}},
{"data": {"name": "ticks"}, "mark": {"type": "rule", "color": "#c8c8c8", "strokeWidth": 1},
 "encoding": {"y": {"field": "p", "type": "quantitative", "scale": {"domain": [7.2, 15.16], "nice": false, "zero": false},
   "axis": {"orient": "right", "title": null, "labels": false, "ticks": false, "grid": false, "domain": true, "domainColor": "black", "domainWidth": 2}}}},
{"data": {"name": "ticks"}, "mark": {"type": "text", "align": "left", "baseline": "middle", "fontSize": 13, "color": "black", "font": "Liberation Sans", "dx": 6},
 "encoding": {"x": {"datum": 2024.354, "type": "quantitative"}, "y": {"field": "p", "type": "quantitative"}, "text": {"field": "p", "type": "quantitative", "format": ".2f"}}},
{"data": {"name": "px"}, "mark": {"type": "rule", "color": "black", "strokeWidth": 2.8, "clip": true},
 "encoding": {
  "x": {"field": "t", "type": "quantitative"},
  "y": {"field": "l", "type": "quantitative"},
  "y2": {"field": "h"}
 }},
{"data": {"name": "px"}, "mark": {"type": "square", "color": "#ff0000", "size": 5, "opacity": 1, "clip": true},
 "encoding": {"x": {"field": "t", "type": "quantitative"}, "y": {"field": "c", "type": "quantitative"}}},
{"data": {"name": "ma1"}, "mark": {"type": "line", "color": "#ff00ff", "strokeWidth": 1.1, "clip": true},
 "encoding": {"x": {"field": "t", "type": "quantitative"}, "y": {"field": "p", "type": "quantitative"}}},
{"data": {"name": "ma2"}, "mark": {"type": "line", "color": "#0000ff", "strokeWidth": 1.1, "clip": true},
 "encoding": {"x": {"field": "t", "type": "quantitative"}, "y": {"field": "p", "type": "quantitative"}}},
{"data": {"values": [{"label": "Cdn:CIC"}]}, "mark": {"type": "text", "align": "left", "baseline": "middle", "fontSize": 13, "color": "black", "font": "Liberation Sans"},
 "encoding": {"x": {"datum": 2019.395, "type": "quantitative"}, "y": {"datum": 14.91, "type": "quantitative"}, "text": {"field": "label"}}}
]
},
{
"width": 779, "height": 107,
"layer": [
{"data": {"name": "yb"}, "mark": {"type": "rule", "color": "#c8c8c8", "strokeWidth": 1},
 "encoding": {"x": {"field": "b", "type": "quantitative", "scale": {"domain": [2019.344, 2024.354], "nice": false, "zero": false}, "axis": null}}},
{"data": {"name": "px"}, "mark": {"type": "rule", "strokeWidth": 2, "clip": true},
 "encoding": {
  "x": {"field": "t", "type": "quantitative"},
  "y": {"field": "v", "type": "quantitative", "scale": {"domain": [0, 6000000], "nice": false},
   "axis": {"orient": "right", "title": null, "values": [1500000, 3000000, 4500000], "labelExpr": "format(datum.value/1000000, '.1f') + ' M'", "labelOverlap": false, "ticks": false, "grid": true, "gridColor": "#c8c8c8", "gridWidth": 1, "domain": true, "domainColor": "black", "domainWidth": 2, "labelFontSize": 13, "labelColor": "black", "labelPadding": 5, "labelFont": "Liberation Sans"}},
  "y2": {"datum": 0},
  "color": {"field": "mv", "type": "nominal", "scale": {"domain": ["up", "down", "flat"], "range": ["#3cb43c", "#ff0000", "#a8a8a8"]}, "legend": null}
 }},
{"data": {"values": [{"label": "Volume"}]}, "mark": {"type": "text", "align": "left", "baseline": "middle", "fontSize": 13, "color": "black", "font": "Liberation Sans"},
 "encoding": {"x": {"datum": 2019.385, "type": "quantitative"}, "y": {"datum": 5400000, "type": "quantitative"}, "text": {"field": "label"}}}
]
},
{
"width": 779, "height": 30,
"layer": [
{"data": {"name": "yb"}, "mark": {"type": "rule", "color": "black", "strokeWidth": 1},
 "encoding": {"x": {"field": "b", "type": "quantitative", "scale": {"domain": [2019.344, 2024.354], "nice": false, "zero": false}, "axis": null}}},
{"data": {"values": [{"level": 2}]}, "mark": {"type": "rule", "color": "black", "strokeWidth": 2},
 "encoding": {"y": {"field": "level", "type": "quantitative", "scale": {"domain": [0, 3]}, "axis": null}}},
{"data": {"name": "yl"}, "mark": {"type": "text", "baseline": "middle", "fontSize": 13, "color": "black", "font": "Liberation Sans"},
 "encoding": {"x": {"field": "mid", "type": "quantitative"}, "y": {"datum": 0.65, "type": "quantitative"}, "text": {"field": "year"}}}
]
}
]
}
